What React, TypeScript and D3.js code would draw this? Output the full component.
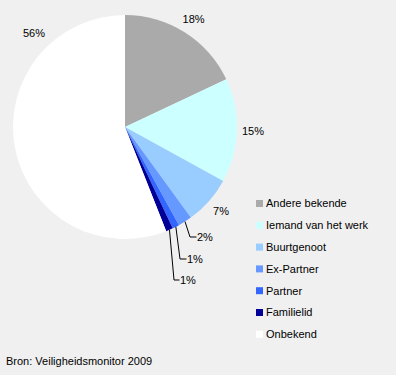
import React from "react";
import * as d3 from "d3";

const categories = ["Andere bekende", "Iemand van het werk", "Buurtgenoot", "Ex-Partner", "Partner", "Familielid", "Onbekend"];
const values = [18, 15, 7, 2, 1, 1, 56];
const labels = ["18%", "15%", "7%", "2%", "1%", "1%", "56%"];
const colors = ["#aaaaaa", "#ccffff", "#99ccff", "#6699ff", "#3366ff", "#000099", "#ffffff"];
const source = "Bron: Veiligheidsmonitor 2009";

const W = 396;
const H = 375;
const cx = 125;
const cy = 127;
const R = 112;

// leader label placement: [elbow x, label x, label y]
const leaderTargets: Record<number, [number, number, number]> = {
  3: [190, 197, 237],
  4: [180, 187, 259],
  5: [174, 180, 280],
};

export default function App() {
  const pie = d3.pie<number>().sort(null).startAngle(0).endAngle(2 * Math.PI);
  const arcs = pie(values);
  const arc = d3.arc<d3.PieArcDatum<number>>().innerRadius(0).outerRadius(R);
  const font = "'Liberation Sans', Arial, sans-serif";

  const legendX = 256;
  const legendY0 = 200;
  const legendStep = 21.8;

  return (
    <svg width={W} height={H} style={{ position: "absolute", left: 0, top: 0, background: "#f0f0f0" }}>
      <rect x={0} y={0} width={W} height={H} fill="#f0f0f0" />
      <g transform={`translate(${cx},${cy})`}>
        {arcs.map((a, i) => (
          <path key={i} d={arc(a) || ""} fill={colors[i]} />
        ))}
        {arcs.map((a, i) => {
          const mid = (a.startAngle + a.endAngle) / 2;
          if (leaderTargets[i]) {
            const [ex, tx, ty] = leaderTargets[i];
            const sx = Math.sin(mid) * R;
            const sy = -Math.cos(mid) * R;
            const lx = tx - cx;
            const ly = ty - cy;
            return (
              <g key={"l" + i}>
                <polyline
                  points={`${sx},${sy} ${ex - cx},${ly} ${lx - 0.5},${ly}`}
                  fill="none"
                  stroke="#000"
                  strokeWidth={1}
                />
                <text x={lx} y={ly} dy="0.35em" fontFamily={font} fontSize={11} fill="#000">
                  {labels[i]}
                </text>
              </g>
            );
          }
          const ang = i === 6 ? (316 * Math.PI) / 180 : mid;
          const r = i === 6 ? 131 : 128;
          return (
            <text
              key={"t" + i}
              x={Math.sin(ang) * r}
              y={-Math.cos(ang) * r}
              dy="0.35em"
              textAnchor="middle"
              fontFamily={font}
              fontSize={11}
              fill="#000"
            >
              {labels[i]}
            </text>
          );
        })}
      </g>
      {categories.map((c, i) => (
        <g key={"lg" + i} transform={`translate(${legendX},${legendY0 + i * legendStep})`}>
          <rect x={0} y={0} width={7} height={7} fill={colors[i]} />
          <text x={10} y={3.5} dy="0.35em" fontFamily={font} fontSize={11} fill="#000">
            {c}
          </text>
        </g>
      ))}
      <text x={6} y={361} dy="0.35em" fontFamily={font} fontSize={11} fill="#000">
        {source}
      </text>
    </svg>
  );
}
